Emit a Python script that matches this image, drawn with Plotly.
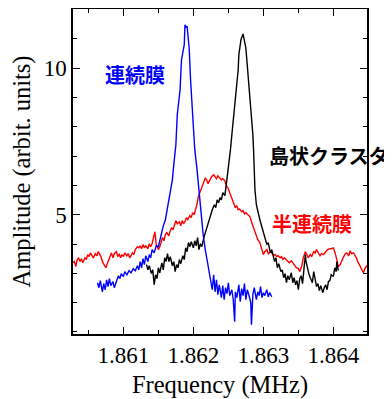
import plotly.graph_objects as go

# ---- data ----
blue_freq = [1.86063, 1.86065, 1.86067, 1.86070, 1.86072, 1.86074, 1.86076, 1.86078, 1.86080, 1.86082,
             1.86085, 1.86087, 1.86089, 1.86091, 1.86093, 1.86095, 1.86097, 1.86100, 1.86102, 1.86105,
             1.86108, 1.86111, 1.86114, 1.86117, 1.86120, 1.86122, 1.86124, 1.86126, 1.86128, 1.86130,
             1.86132, 1.86135, 1.86137, 1.86139, 1.86141, 1.86144, 1.86147, 1.86150, 1.86152, 1.86154,
             1.86157, 1.86160, 1.86162, 1.86165, 1.86167, 1.86170, 1.86172, 1.86175, 1.86177, 1.86179,
             1.86181, 1.86183, 1.86185, 1.86187, 1.86188, 1.86190, 1.86191, 1.86192, 1.86194, 1.86196,
             1.86198, 1.86200, 1.86202, 1.86205, 1.86207, 1.86209, 1.86211, 1.86214, 1.86217, 1.86220,
             1.86222, 1.86225, 1.86227, 1.86229, 1.86231, 1.86233, 1.86235, 1.86237, 1.86240, 1.86242,
             1.86244, 1.86246, 1.86248, 1.86250, 1.86252, 1.86255, 1.86257, 1.86259, 1.86260, 1.86262,
             1.86265, 1.86267, 1.86269, 1.86271, 1.86273, 1.86275, 1.86277, 1.86280, 1.86282, 1.86283,
             1.86285, 1.86287, 1.86290, 1.86292, 1.86294, 1.86296, 1.86298, 1.86300, 1.86302, 1.86305,
             1.86307, 1.86309, 1.86312]
blue_amp = [2.68, 2.51, 2.75, 2.37, 2.65, 2.44, 2.78, 2.55, 2.82, 2.58,
            2.72, 2.51, 2.65, 2.78, 2.92, 2.82, 2.99, 2.89, 3.06, 2.95,
            3.09, 3.02, 3.16, 3.09, 3.26, 3.12, 3.40, 3.19, 3.50, 3.30,
            3.60, 3.40, 3.64, 3.53, 3.81, 3.70, 3.94, 3.91, 4.15, 4.28,
            4.62, 4.83, 5.10, 5.38, 5.65, 6.19, 6.70, 7.39, 8.41, 8.99,
            9.26, 10.28, 10.63, 10.80, 11.48, 11.38, 11.44, 11.14, 10.69, 9.60,
            8.92, 7.90, 7.22, 6.60, 6.09, 5.51, 4.90, 4.32, 3.81, 3.40,
            3.19, 2.78, 2.44, 2.95, 2.37, 2.78, 2.27, 2.61, 2.17, 2.58,
            2.10, 2.51, 2.31, 2.68, 2.24, 2.44, 2.10, 1.35, 2.37, 2.17,
            2.61, 2.03, 2.48, 2.24, 2.65, 2.10, 2.44, 2.20, 2.00, 1.25,
            2.27, 2.51, 2.10, 2.37, 2.24, 2.55, 2.17, 2.34, 2.24, 2.44,
            2.20, 2.34, 2.20]

black_freq = [1.86133, 1.86135, 1.86137, 1.86140, 1.86142, 1.86144, 1.86146, 1.86148, 1.86150, 1.86152,
              1.86155, 1.86157, 1.86159, 1.86161, 1.86163, 1.86165, 1.86167, 1.86170, 1.86172, 1.86174,
              1.86176, 1.86178, 1.86180, 1.86182, 1.86185, 1.86187, 1.86189, 1.86191, 1.86193, 1.86195,
              1.86197, 1.86200, 1.86202, 1.86204, 1.86206, 1.86208, 1.86210, 1.86212, 1.86215, 1.86217,
              1.86219, 1.86221, 1.86223, 1.86225, 1.86227, 1.86230, 1.86232, 1.86234, 1.86236, 1.86238,
              1.86240, 1.86242, 1.86245, 1.86247, 1.86249, 1.86250, 1.86253, 1.86255, 1.86257, 1.86260,
              1.86262, 1.86264, 1.86265, 1.86267, 1.86268, 1.86271, 1.86272, 1.86274, 1.86275, 1.86277,
              1.86280, 1.86282, 1.86283, 1.86285, 1.86286, 1.86287, 1.86288, 1.86290, 1.86292, 1.86295,
              1.86297, 1.86300, 1.86302, 1.86305, 1.86307, 1.86310, 1.86312, 1.86314, 1.86316, 1.86318,
              1.86320, 1.86322, 1.86325, 1.86327, 1.86329, 1.86331, 1.86333, 1.86335, 1.86337, 1.86340,
              1.86342, 1.86344, 1.86346, 1.86348, 1.86350, 1.86352, 1.86354, 1.86356, 1.86358, 1.86360,
              1.86361, 1.86363, 1.86365, 1.86367, 1.86370, 1.86372, 1.86374, 1.86376, 1.86378, 1.86380,
              1.86382, 1.86385, 1.86387, 1.86389, 1.86391, 1.86393, 1.86395, 1.86397, 1.86400, 1.86402,
              1.86404, 1.86405, 1.86407]
black_amp = [3.30, 3.12, 3.26, 2.99, 3.12, 2.61, 2.95, 2.82, 3.19, 3.02,
             3.36, 3.12, 3.53, 3.40, 3.67, 3.40, 3.57, 3.26, 3.40, 3.06,
             3.30, 3.19, 3.47, 3.33, 3.60, 3.47, 3.87, 3.74, 4.05, 3.91,
             4.08, 3.87, 4.11, 3.94, 4.22, 3.81, 4.01, 3.91, 4.22, 4.39,
             4.56, 4.69, 4.90, 5.00, 5.17, 5.34, 5.24, 5.51, 5.41, 5.58,
             5.51, 5.75, 5.65, 6.02, 6.36, 6.67, 7.22, 7.73, 8.24, 8.75,
             9.26, 9.94, 10.46, 10.80, 10.97, 11.17, 11.03, 10.83, 10.69, 10.11,
             9.26, 8.75, 8.24, 7.73, 7.22, 6.53, 5.85, 5.34, 5.10, 4.83,
             4.66, 4.42, 4.25, 3.98, 4.05, 3.70, 3.81, 3.60, 3.40, 3.53,
             3.19, 3.33, 3.06, 3.12, 2.85, 2.99, 2.68, 2.92, 2.78, 3.02,
             2.68, 2.85, 2.61, 2.75, 2.44, 2.82, 2.92, 2.65, 3.19, 3.64,
             3.40, 3.12, 2.99, 2.85, 2.68, 3.06, 2.72, 2.55, 2.65, 2.41,
             2.58, 2.34, 2.51, 2.61, 2.44, 2.72, 2.75, 2.95, 2.89, 3.19,
             3.06, 3.40, 3.09]

red_freq = [1.86028, 1.86030, 1.86032, 1.86034, 1.86036, 1.86038, 1.86040, 1.86042, 1.86045, 1.86047,
            1.86049, 1.86051, 1.86053, 1.86055, 1.86057, 1.86060, 1.86062, 1.86064, 1.86066, 1.86068,
            1.86070, 1.86072, 1.86075, 1.86077, 1.86079, 1.86081, 1.86083, 1.86085, 1.86087, 1.86090,
            1.86092, 1.86094, 1.86096, 1.86098, 1.86100, 1.86102, 1.86105, 1.86107, 1.86109, 1.86111,
            1.86113, 1.86115, 1.86117, 1.86120, 1.86122, 1.86124, 1.86126, 1.86128, 1.86130, 1.86132,
            1.86135, 1.86137, 1.86139, 1.86141, 1.86143, 1.86145, 1.86147, 1.86150, 1.86152, 1.86154,
            1.86156, 1.86158, 1.86160, 1.86162, 1.86165, 1.86167, 1.86169, 1.86171, 1.86173, 1.86175,
            1.86177, 1.86180, 1.86182, 1.86184, 1.86186, 1.86188, 1.86190, 1.86192, 1.86195, 1.86197,
            1.86199, 1.86201, 1.86203, 1.86205, 1.86207, 1.86210, 1.86212, 1.86214, 1.86217, 1.86219,
            1.86221, 1.86224, 1.86226, 1.86229, 1.86231, 1.86233, 1.86235, 1.86238, 1.86240, 1.86242,
            1.86245, 1.86247, 1.86250, 1.86252, 1.86255, 1.86257, 1.86260, 1.86262, 1.86264, 1.86266,
            1.86269, 1.86271, 1.86273, 1.86275, 1.86278, 1.86281, 1.86283, 1.86285, 1.86288, 1.86290,
            1.86292, 1.86295, 1.86297, 1.86300, 1.86302, 1.86305, 1.86307, 1.86310, 1.86312, 1.86315,
            1.86317, 1.86319, 1.86321, 1.86324, 1.86326, 1.86328, 1.86330, 1.86333, 1.86335, 1.86337,
            1.86340, 1.86343, 1.86345, 1.86347, 1.86350, 1.86352, 1.86355, 1.86357, 1.86360, 1.86362,
            1.86364, 1.86367, 1.86369, 1.86372, 1.86374, 1.86376, 1.86379, 1.86381, 1.86383, 1.86386,
            1.86388, 1.86390, 1.86392, 1.86395, 1.86397, 1.86400, 1.86402, 1.86405, 1.86407, 1.86410,
            1.86412, 1.86414, 1.86417, 1.86419, 1.86422, 1.86424, 1.86426, 1.86429, 1.86431, 1.86433,
            1.86435, 1.86438, 1.86440, 1.86443, 1.86445, 1.86449]
red_amp = [3.36, 3.40, 3.23, 3.47, 3.53, 3.40, 3.50, 3.36, 3.53, 3.47,
           3.64, 3.57, 3.70, 3.60, 3.53, 3.67, 3.60, 3.74, 3.64, 3.57,
           3.40, 3.30, 3.19, 3.33, 3.47, 3.57, 3.70, 3.53, 3.67, 3.74,
           3.57, 3.67, 3.53, 3.64, 3.57, 3.70, 3.60, 3.67, 3.53, 3.60,
           3.70, 3.64, 3.81, 3.91, 3.87, 3.94, 3.84, 3.98, 3.87, 3.94,
           3.84, 4.01, 3.91, 4.01, 4.22, 4.42, 3.98, 3.81, 3.91, 4.11,
           4.22, 4.11, 4.32, 4.39, 4.28, 4.45, 4.56, 4.49, 4.66, 4.80,
           4.69, 4.76, 4.62, 4.80, 4.69, 4.76, 4.90, 4.83, 4.97, 4.90,
           5.07, 5.00, 5.17, 5.34, 5.61, 5.78, 5.92, 6.06, 6.26, 6.19,
           6.06, 6.19, 6.30, 6.36, 6.30, 6.23, 6.33, 6.26, 6.19, 6.23,
           6.16, 5.99, 5.89, 5.75, 5.58, 5.41, 5.24, 5.31, 5.17, 5.20,
           5.10, 5.14, 5.03, 5.07, 5.00, 4.93, 4.76, 4.62, 4.39, 4.32,
           4.15, 4.05, 3.87, 3.64, 3.74, 3.81, 3.67, 3.74, 3.70, 3.60,
           3.64, 3.57, 3.60, 3.53, 3.57, 3.47, 3.53, 3.47, 3.40, 3.36,
           3.43, 3.30, 3.26, 3.19, 3.16, 3.06, 3.26, 3.53, 3.74, 3.64,
           3.53, 3.64, 3.57, 3.74, 3.70, 3.81, 3.70, 3.60, 3.67, 3.64,
           3.70, 3.77, 3.81, 3.84, 3.84, 3.87, 3.74, 3.47, 3.23, 3.30,
           3.43, 3.53, 3.67, 3.70, 3.60, 3.77, 3.67, 3.70, 3.60, 3.53,
           3.40, 3.26, 3.12, 3.02, 3.16, 3.30]

x_tickvals = [1.861, 1.862, 1.863, 1.864]
x_ticktext = ["1.861", "1.862", "1.863", "1.864"]
y_tickvals = [5, 10]
y_ticktext = ["5", "10"]

labels = ["連続膜", "島状クラスタ", "半連続膜"]
label_x = [1.86116, 1.86305, 1.86369]
label_y = [9.77, 7.01, 4.69]
label_anchor = ["center", "left", "center"]
colors = ["#0000ff", "#000000", "#ff0000"]

x_range = [1.86028, 1.864481]
y_range = [0.93, 12.02]

fig = go.Figure()
fig.add_trace(go.Scatter(x=red_freq, y=red_amp, mode="lines",
                         line=dict(color=colors[2], width=1.4), showlegend=False))
fig.add_trace(go.Scatter(x=black_freq, y=black_amp, mode="lines",
                         line=dict(color=colors[1], width=1.4), showlegend=False))
fig.add_trace(go.Scatter(x=blue_freq, y=blue_amp, mode="lines",
                         line=dict(color=colors[0], width=1.4), showlegend=False))

for t, lx, ly, anc, c in zip(labels, label_x, label_y, label_anchor, colors):
    fig.add_annotation(x=lx, y=ly, xref="x", yref="y", text=t, showarrow=False,
                       xanchor=anc, yanchor="middle",
                       font=dict(family="Noto Sans CJK JP", size=20, color=c, weight="bold"))

serif = "Liberation Serif"
# the page body adds an 8 px offset, so the figure is 8 px smaller than the window
fig.update_layout(
    width=384, height=391,
    margin=dict(l=65, r=25, t=1, b=65, autoexpand=False),
    plot_bgcolor="white", paper_bgcolor="white",
    font=dict(family=serif, size=23, color="black"),
    xaxis=dict(range=x_range, tickmode="array", tickvals=x_tickvals, ticktext=x_ticktext,
               ticks="inside", ticklen=7, tickwidth=1.2, tickcolor="black",
               showline=True, linecolor="black", linewidth=1.5, mirror="ticks",
               showgrid=False, zeroline=False, automargin=False,
               tickfont=dict(family=serif, size=23),
               minor=dict(tick0=1.861, dtick=0.0005, ticks="inside", ticklen=4,
                          tickwidth=1.2, tickcolor="black", showgrid=False),
               title=dict(text="Frequency (MHz)", font=dict(family=serif, size=24.5), standoff=12)),
    yaxis=dict(range=y_range, tickmode="array", tickvals=y_tickvals, ticktext=y_ticktext,
               ticks="inside", ticklen=7, tickwidth=1.2, tickcolor="black",
               showline=True, linecolor="black", linewidth=1.5, mirror="ticks",
               showgrid=False, zeroline=False, automargin=False,
               tickfont=dict(family=serif, size=23),
               minor=dict(tick0=0, dtick=1, ticks="inside", ticklen=4,
                          tickwidth=1.2, tickcolor="black", showgrid=False),
               title=dict(text="Amplitude (arbit. units)", font=dict(family=serif, size=24.5), standoff=6)),
)

fig.write_html("out.html")
